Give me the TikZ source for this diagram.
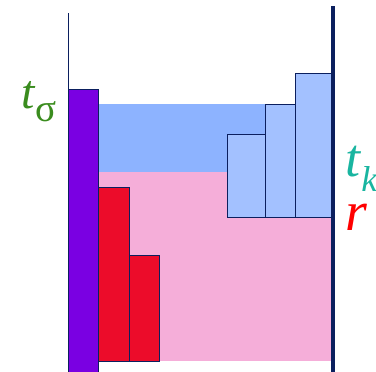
\documentclass[tikz,border=0pt]{standalone}
\usepackage{fontspec}
\setmainfont{Liberation Serif}
\usepackage{tikz}
\usetikzlibrary{positioning}

\definecolor{navy}{HTML}{0B1F5E}
\definecolor{barpurple}{HTML}{7A00E2}
\definecolor{fillblue}{HTML}{8DB3FF}
\definecolor{fillpink}{HTML}{F5AED9}
\definecolor{barred}{HTML}{EC0C2A}
\definecolor{barblue}{HTML}{A3C1FF}
\definecolor{lblgreen}{HTML}{3A8C1E}
\definecolor{lblteal}{HTML}{19B5A0}

% subscript: lowered by #1, at size #2
\newcommand{\subtxt}[3]{\raisebox{-#1}{\fontsize{#2}{#2}\selectfont #3}}

\begin{document}
\begin{tikzpicture}[
    x=1pt, y=-1pt,
    bar/.style={draw=navy, line width=0.8pt},
    lbl/.style={inner sep=0pt, anchor=base west}
]
\useasboundingbox (0,0) rectangle (376,372);

% Filled regions
\fill[fillblue] (98.5,104) rectangle (331,172);
\fill[fillpink] (98.5,172) rectangle (331,361);

% Left axis and tall bar
\draw[navy, line width=1pt] (68.5,13) -- (68.5,372);
\draw[bar, fill=barpurple] (68.5,89) rectangle (98.5,372);

% Red bars
\draw[bar, fill=barred] (98.5,187) rectangle (129.5,361);
\draw[bar, fill=barred] (129.5,255) rectangle (159.5,361);

% Light blue bars
\draw[bar, fill=barblue] (227.5,134.5) rectangle (265.5,217);
\draw[bar, fill=barblue] (265.5,104) rectangle (295.5,217);
\draw[bar, fill=barblue] (295.5,73.5) rectangle (331,217);

% Right axis
\draw[navy, line width=4pt] (332.5,6) -- (332.5,372);

% Labels
\node[lbl, text=lblgreen, font=\fontsize{48}{48}\selectfont] (tsigma) at (21,109)
    {\textit{t}\subtxt{13pt}{39}{σ}};
\node[lbl, text=lblteal, font=\fontsize{54}{54}\selectfont] (tk) at (345,176)
    {\textit{t}\subtxt{15pt}{36}{\textit{k}}};
\node[lbl, text=red, font=\fontsize{56}{56}\selectfont] (r) at (345,230) {\textit{r}};
\end{tikzpicture}
\end{document}
